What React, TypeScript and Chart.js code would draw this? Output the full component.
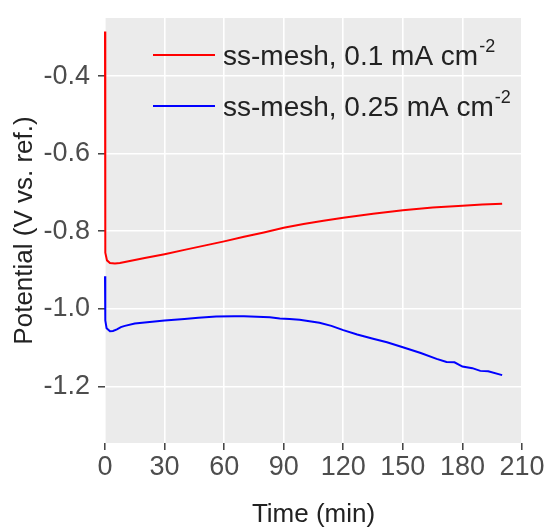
import React, { useEffect, useRef } from "react";
import { Chart, registerables } from "chart.js";

Chart.register(...registerables);

// ---- data ----
const seriesNames = ["ss-mesh, 0.1 mA cm", "ss-mesh, 0.25 mA cm"];
const superscripts = ["-2", "-2"];
const timeRed = [0, 0.05, 0.1, 0.3, 1, 2.5, 5, 7.5, 10, 15, 20, 30, 40, 50, 60, 70, 80, 90, 100, 110, 120, 135, 150, 165, 180, 190, 200];
const potRed = [-0.285, -0.55, -0.56, -0.855, -0.875, -0.882, -0.883, -0.882, -0.879, -0.874, -0.869, -0.859, -0.848, -0.837, -0.826, -0.814, -0.803, -0.791, -0.781, -0.773, -0.765, -0.755, -0.746, -0.739, -0.734, -0.731, -0.729];
const timeBlue = [0, 0.05, 0.1, 0.3, 0.8, 2.5, 4, 6, 8, 10, 15, 20, 30, 40, 47, 56, 65, 70, 83, 88, 93, 98, 108, 114, 120, 127, 135, 142, 150, 159, 167, 172, 176, 180, 185, 189, 193, 200];
const potBlue = [-0.916, -0.984, -0.99, -1.03, -1.05, -1.058, -1.057, -1.053, -1.047, -1.044, -1.038, -1.035, -1.03, -1.026, -1.023, -1.020, -1.019, -1.019, -1.022, -1.025, -1.026, -1.028, -1.036, -1.044, -1.055, -1.066, -1.077, -1.086, -1.099, -1.114, -1.129, -1.137, -1.138, -1.149, -1.153, -1.160, -1.161, -1.171];
const xTicks = [0, 30, 60, 90, 120, 150, 180, 210];
const yTicks = [-1.2, -1.0, -0.8, -0.6, -0.4];
const xTitle = "Time (min)";
const yTitle = "Potential (V vs. ref.)";
const colors = ["#ff0000", "#0000ff"];

const FONT = "'Liberation Sans', Arial, sans-serif";

export default function App() {
  const ref = useRef<HTMLCanvasElement | null>(null);
  useEffect(() => {
    const canvas = ref.current!;
    const bgPlugin = {
      id: "panelBg",
      beforeDraw(chart: any) {
        const { ctx, chartArea } = chart;
        ctx.save();
        ctx.fillStyle = "#ebebeb";
        ctx.fillRect(chartArea.left, chartArea.top, chartArea.right - chartArea.left, chartArea.bottom - chartArea.top);
        ctx.restore();
      },
    };
    const annoPlugin = {
      id: "annotations",
      afterDraw(chart: any) {
        const { ctx, chartArea } = chart;
        ctx.save();
        // legend
        const rowsY = [55, 106];
        rowsY.forEach((y, i) => {
          ctx.strokeStyle = colors[i];
          ctx.lineWidth = 2;
          ctx.beginPath();
          ctx.moveTo(153, y);
          ctx.lineTo(215, y);
          ctx.stroke();
          ctx.fillStyle = "#222";
          ctx.font = `28px ${FONT}`;
          ctx.textBaseline = "alphabetic";
          ctx.textAlign = "left";
          ctx.fillText(seriesNames[i], 223, y + 9.5);
          const w = ctx.measureText(seriesNames[i]).width;
          ctx.font = `18px ${FONT}`;
          ctx.fillText(superscripts[i], 223 + w + 1, y - 3);
        });
        // axis titles
        ctx.fillStyle = "#222";
        ctx.font = `26px ${FONT}`;
        ctx.textAlign = "center";
        ctx.textBaseline = "middle";
        ctx.fillText(xTitle, (chartArea.left + chartArea.right) / 2, 515);
        ctx.save();
        ctx.translate(25, (chartArea.top + chartArea.bottom) / 2);
        ctx.rotate(-Math.PI / 2);
        ctx.fillText(yTitle, 0, 0);
        ctx.restore();
        ctx.restore();
      },
    };
    const chart = new Chart(canvas, {
      type: "line",
      data: {
        datasets: [
          {
            label: seriesNames[0],
            data: timeRed.map((t, i) => ({ x: t, y: potRed[i] })),
            borderColor: colors[0],
            borderWidth: 2,
            pointRadius: 0,
            tension: 0,
            clip: 4,
          },
          {
            label: seriesNames[1],
            data: timeBlue.map((t, i) => ({ x: t, y: potBlue[i] })),
            borderColor: colors[1],
            borderWidth: 2,
            pointRadius: 0,
            tension: 0,
            clip: 4,
          },
        ],
      },
      options: {
        responsive: false,
        animation: false,
        devicePixelRatio: 1,
        layout: { padding: { top: 18, right: 25, left: 0, bottom: 0 } },
        plugins: { legend: { display: false }, tooltip: { enabled: false } },
        scales: {
          x: {
            type: "linear",
            min: 0,
            max: 210,
            afterBuildTicks: (s: any) => {
              s.ticks = xTicks.map((v) => ({ value: v }));
            },
            afterFit: (s: any) => {
              s.height = 85;
              s.paddingLeft = 0;
              s.paddingRight = 0;
            },
            border: { display: false },
            grid: { color: "#ffffff", lineWidth: 1.6, tickColor: "#333333", tickWidth: 1.4, tickLength: 7 },
            ticks: { color: "#4d4d4d", font: { family: FONT, size: 27 }, padding: 1, maxRotation: 0, autoSkip: false },
          },
          y: {
            type: "linear",
            min: -1.346,
            max: -0.25,
            afterBuildTicks: (s: any) => {
              s.ticks = yTicks.map((v) => ({ value: v }));
            },
            afterFit: (s: any) => {
              s.width = 105;
              s.paddingTop = 0;
              s.paddingBottom = 0;
            },
            border: { display: false },
            grid: { color: "#ffffff", lineWidth: 1.6, tickColor: "#333333", tickWidth: 1.4, tickLength: 7 },
            ticks: {
              color: "#4d4d4d",
              font: { family: FONT, size: 27 },
              padding: 8,
              callback: (v: any) => Number(v).toFixed(1),
            },
          },
        },
      },
      plugins: [bgPlugin, annoPlugin],
    } as any);
    return () => chart.destroy();
  }, []);
  return (
    <div style={{ position: "absolute", left: 0, top: 0, width: 547, height: 528, background: "#fff" }}>
      <canvas ref={ref} width={547} height={528} />
    </div>
  );
}
